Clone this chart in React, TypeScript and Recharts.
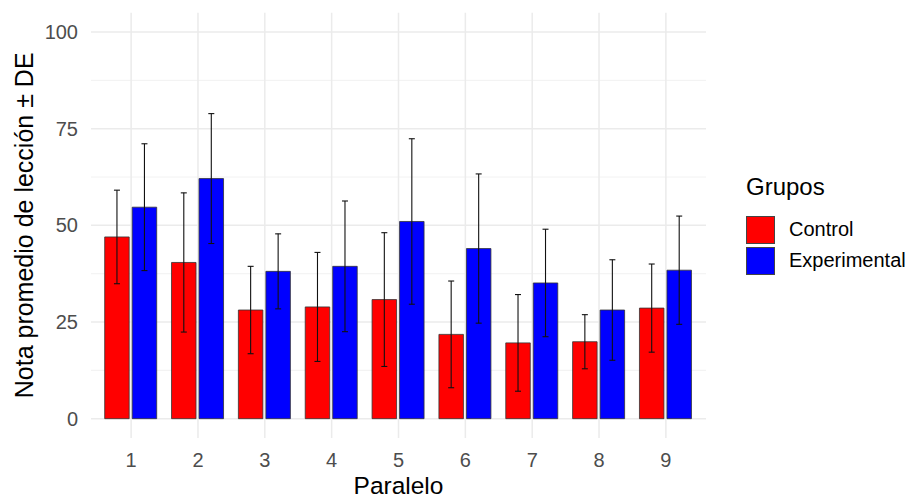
import { BarChart, Bar, XAxis, YAxis, CartesianGrid, ErrorBar, Legend } from "recharts";

const FONT = "'Liberation Sans', Arial, sans-serif";

// Paralelo 1..9, mean score and SD per group
const paralelos = ["1", "2", "3", "4", "5", "6", "7", "8", "9"];
const controlMean = [47.0, 40.4, 28.1, 28.9, 30.8, 21.8, 19.6, 19.9, 28.6];
const controlSd = [12.1, 18.0, 11.3, 14.1, 17.3, 13.8, 12.5, 7.0, 11.4];
const experimentalMean = [54.7, 62.1, 38.1, 39.4, 51.0, 44.0, 35.1, 28.1, 38.4];
const experimentalSd = [16.4, 16.8, 9.7, 16.9, 21.4, 19.3, 13.9, 13.0, 14.0];

const yTicks = [0, 25, 50, 75, 100];
const yMinor = [12.5, 37.5, 62.5, 87.5];

const data = paralelos.map((p, i) => ({
  paralelo: p,
  control: controlMean[i],
  controlSd: controlSd[i],
  experimental: experimentalMean[i],
  experimentalSd: experimentalSd[i],
}));

function LegendBox({ payload }: any) {
  return (
    <div style={{ fontFamily: FONT, color: "#000" }}>
      <div style={{ fontSize: 24, lineHeight: "26px", marginBottom: 14 }}>Grupos</div>
      {(payload || []).map((entry: any) => (
        <div key={entry.value} style={{ display: "flex", alignItems: "center", height: 31 }}>
          <span
            style={{
              display: "inline-block",
              width: 29,
              height: 28,
              background: entry.color,
              border: "1px solid #444",
              boxSizing: "border-box",
            }}
          />
          <span style={{ marginLeft: 14, fontSize: 20 }}>{entry.value}</span>
        </div>
      ))}
    </div>
  );
}

export default function App() {
  return (
    <div style={{ position: "absolute", left: 0, top: 0, background: "#fff" }}>
      <BarChart
        width={909}
        height={498}
        data={data}
        margin={{ top: 12.7, right: 203, bottom: 0, left: 0 }}
        barSize={24.5}
        barGap={3}
      >
        <CartesianGrid horizontalValues={yMinor} vertical={false} syncWithTicks stroke="#EFEFEF" strokeWidth={0.9} />
        <CartesianGrid horizontalValues={yTicks} syncWithTicks stroke="#EBEBEB" strokeWidth={1.5} />
        <XAxis
          dataKey="paralelo"
          axisLine={false}
          tickLine={false}
          tickSize={0}
          tickMargin={15}
          height={60}
          padding={{ left: 6.7, right: 6.7 }}
          tick={{ fill: "#4D4D4D", fontSize: 20, fontFamily: FONT }}
          label={{
            content: (p: any) => {
              const vb = p.viewBox;
              return (
                <text
                  x={vb.x + vb.width / 2}
                  y={vb.y + vb.height - 4}
                  textAnchor="middle"
                  fill="#000"
                  fontSize={24.5}
                  fontFamily={FONT}
                >
                  Paralelo
                </text>
              );
            },
          }}
        />
        <YAxis
          type="number"
          domain={[-5, 105]}
          ticks={yTicks}
          allowDataOverflow
          axisLine={false}
          tickLine={false}
          tickSize={0}
          tickMargin={13}
          width={91}
          tick={{ fill: "#4D4D4D", fontSize: 20, fontFamily: FONT }}
          label={{
            content: (p: any) => {
              const vb = p.viewBox;
              const cy = vb.y + vb.height / 2;
              return (
                <text
                  transform={`rotate(-90)`}
                  x={-cy}
                  y={vb.x + 33}
                  textAnchor="middle"
                  fill="#000"
                  fontSize={25}
                  fontFamily={FONT}
                >
                  Nota promedio de lección ± DE
                </text>
              );
            },
          }}
        />
        <Legend
          layout="vertical"
          align="center"
          verticalAlign="middle"
          content={<LegendBox />}
          wrapperStyle={{ left: 746, top: 174, width: 163, right: "auto", bottom: "auto" }}
        />
        <Bar dataKey="control" name="Control" fill="#FF0000" stroke="#333" strokeWidth={0.8} isAnimationActive={false}>
          <ErrorBar dataKey="controlSd" width={3} stroke="#111" strokeWidth={1.1} direction="y" />
        </Bar>
        <Bar dataKey="experimental" name="Experimental" fill="#0000FF" stroke="#333" strokeWidth={0.8} isAnimationActive={false}>
          <ErrorBar dataKey="experimentalSd" width={3} stroke="#111" strokeWidth={1.1} direction="y" />
        </Bar>
      </BarChart>
    </div>
  );
}
